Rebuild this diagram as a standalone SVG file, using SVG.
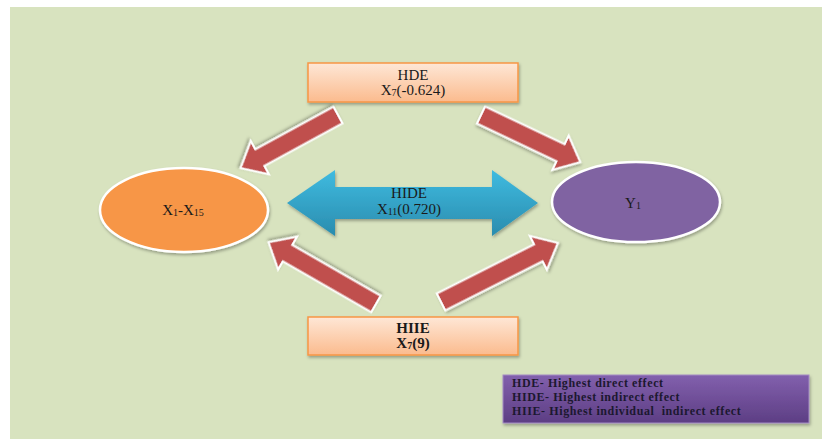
<svg xmlns="http://www.w3.org/2000/svg" width="830" height="439" viewBox="0 0 830 439">
  <defs>
    <linearGradient id="gBox" x1="0" y1="0" x2="0" y2="1">
      <stop offset="0" stop-color="#fee7d6"/>
      <stop offset="1" stop-color="#fbbb8e"/>
    </linearGradient>
    <linearGradient id="gBlue" x1="0" y1="0" x2="0" y2="1">
      <stop offset="0" stop-color="#3fbbe0"/>
      <stop offset="1" stop-color="#2a8cae"/>
    </linearGradient>
    <linearGradient id="gPurple" x1="0" y1="0" x2="0" y2="1">
      <stop offset="0" stop-color="#8260ad"/>
      <stop offset="1" stop-color="#5d3e84"/>
    </linearGradient>
    <filter id="shadow" x="-20%" y="-20%" width="140%" height="140%">
      <feDropShadow dx="1" dy="2" stdDeviation="1.5" flood-color="#000" flood-opacity="0.3"/>
    </filter>
  </defs>
  <style>
    .bg { fill: #d8e3bf; }
    .box { fill: url(#gBox); stroke: #f79646; stroke-width: 1.5; }
    .red { fill: #c0504d; stroke: #ffffff; stroke-width: 2; stroke-linejoin: miter; }
    .lbl { font-family: "Liberation Serif", "Times New Roman", serif; font-size: 15px; fill: #1a1a1a; text-anchor: middle; }
    .sub { font-size: 10px; }
    .leg { font-family: "Liberation Serif", "Times New Roman", serif; font-size: 12px; letter-spacing: 0.6px; font-weight: bold; fill: #1c1830; white-space: pre; }
  </style>
  <rect class="bg" x="10" y="7" width="812" height="432"/>

  <g id="connectors">
    <path class="red" filter="url(#shadow)" transform="translate(338,115) rotate(151.4)" d="M0,-9.5 L89,-9.5 L89,-19 L111,0 L89,19 L89,9.5 L0,9.5 Z"/>
    <path class="red" filter="url(#shadow)" transform="translate(481,115) rotate(25.4)" d="M0,-9.5 L88,-9.5 L88,-19 L110,0 L88,19 L88,9.5 L0,9.5 Z"/>
    <path class="red" filter="url(#shadow)" transform="translate(376,304) rotate(209.9)" d="M0,-9.5 L102,-9.5 L102,-19 L124,0 L102,19 L102,9.5 L0,9.5 Z"/>
    <path class="red" filter="url(#shadow)" transform="translate(441,302) rotate(-26.8)" d="M0,-9.5 L109,-9.5 L109,-19 L131,0 L109,19 L109,9.5 L0,9.5 Z"/>
  </g>

  <g id="hide">
    <path fill="url(#gBlue)" filter="url(#shadow)" d="M287,203 L335,170 L335,187 L492,187 L492,170 L538,203 L492,236 L492,219 L335,219 L335,236 Z"/>
    <text class="lbl" x="409" y="198">HIDE</text>
    <text class="lbl" x="409" y="214">X<tspan class="sub" dy="1">11</tspan><tspan dy="-1">(0.720)</tspan></text>
  </g>

  <g id="hde">
    <rect class="box" x="308" y="63" width="210" height="39" filter="url(#shadow)"/>
    <text class="lbl" x="413" y="80">HDE</text>
    <text class="lbl" x="413" y="95">X<tspan class="sub" dy="1">7</tspan><tspan dy="-1">(-0.624)</tspan></text>
  </g>

  <g id="hiie">
    <rect class="box" x="308" y="317" width="210" height="38" filter="url(#shadow)"/>
    <text class="lbl" x="413" y="333" font-weight="bold">HIIE</text>
    <text class="lbl" x="413" y="348" font-weight="bold">X<tspan class="sub" dy="1">7</tspan><tspan dy="-1">(9)</tspan></text>
  </g>

  <g id="x1x15">
    <ellipse cx="184" cy="210" rx="84" ry="42" fill="#f79646" stroke="#ffffff" stroke-width="2.5" filter="url(#shadow)"/>
    <text class="lbl" x="183" y="215">X<tspan class="sub" dy="1">1</tspan><tspan dy="-1">-X</tspan><tspan class="sub" dy="1">15</tspan></text>
  </g>

  <g id="y1">
    <ellipse cx="636" cy="202" rx="84" ry="40" fill="#8064a2" stroke="#ffffff" stroke-width="2.5" filter="url(#shadow)"/>
    <text class="lbl" x="633" y="208">Y<tspan class="sub" dy="1">1</tspan></text>
  </g>

  <g id="legend">
    <rect x="503" y="375" width="306" height="48" fill="url(#gPurple)" stroke="#a48cc4" stroke-width="1" filter="url(#shadow)"/>
    <text class="leg" x="512" y="387">HDE- Highest direct effect</text>
    <text class="leg" x="512" y="401">HIDE- Highest indirect effect</text>
    <text class="leg" x="512" y="415" xml:space="preserve">HIIE- Highest individual  indirect effect</text>
  </g>
</svg>
